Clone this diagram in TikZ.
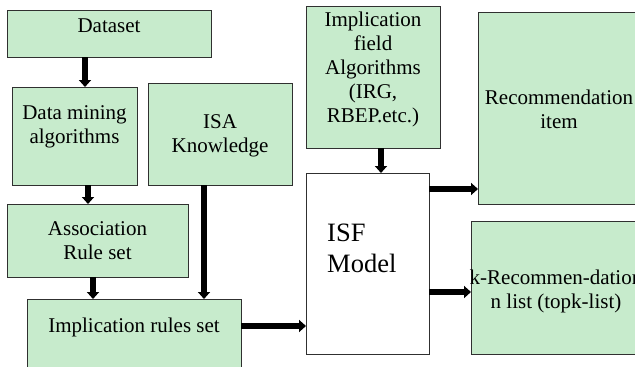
\documentclass[tikz,border=0pt]{standalone}
\usepackage{fontspec}
\setmainfont{Liberation Serif}
\usetikzlibrary{arrows.meta}
\definecolor{boxgreen}{HTML}{C7EBCC}
\definecolor{edgegray}{HTML}{303030}
\begin{document}
\begin{tikzpicture}[x=1pt,y=-1pt,
  gbox/.style={draw=edgegray,line width=0.9pt,fill=boxgreen},
  wbox/.style={draw=edgegray,line width=0.9pt,fill=white},
  lbl/.style={align=center,font=\fontsize{21}{24}\selectfont,inner sep=0pt},
  flow/.style={line width=5.5pt,-{Triangle[width=12pt,length=7pt]}}]
\useasboundingbox (0,0) rectangle (635,367);

% boxes
\draw[gbox] (7,10) rectangle (211,57);
\draw[gbox] (12,87) rectangle (137,185);
\draw[gbox] (148,83) rectangle (292,185);
\draw[gbox] (7,204) rectangle (188,277);
\draw[gbox] (27,299) rectangle (241,380);
\draw[gbox] (306,6) rectangle (440,148);
\draw[wbox] (306,173) rectangle (429,354);
\draw[gbox] (478,12) rectangle (645,204);
\draw[gbox] (471,221) rectangle (645,354);

% labels
\node[lbl] (ds) at (109,26) {Dataset};
\node[lbl] (dm) at (74.5,127) {Data mining\\algorithms};
\node[lbl] (isa) at (220,136) {ISA\\Knowledge};
\node[lbl] (ar) at (97.5,241) {Association\\Rule set};
\node[lbl] (ir) at (134,327) {Implication rules set};
\node[lbl] (ifa) at (373,69) {Implication\\field\\Algorithms\\(IRG,\\RBEP.etc.)};
\node[lbl] (ri) at (559,109) {Recommendation\\item};
\node[lbl] (kr) at (556,291) {k-Recommen-dation\\n list (topk-list)};
\node[align=left,anchor=north west,inner sep=0pt,font=\fontsize{26.5}{31}\selectfont] (isf) at (327,224) {ISF\\Model};

% anchor points on the box edges
\coordinate (dsB) at (85,57);
\coordinate (dmT) at (85,87);
\coordinate (dmB) at (88,185);
\coordinate (arT) at (88,204);
\coordinate (arB) at (93,277);
\coordinate (irT1) at (93,299);
\coordinate (isaB) at (204,185);
\coordinate (irT2) at (204,299);
\coordinate (irR) at (241,326);
\coordinate (isfL) at (306,326);
\coordinate (ifaB) at (381,148);
\coordinate (isfT) at (381,173);
\coordinate (isfR1) at (429,189);
\coordinate (riL) at (478,189);
\coordinate (isfR2) at (429,292);
\coordinate (krL) at (471,292);

% connectors
\draw[flow] (dsB) -- (dmT);
\draw[flow] (dmB) -- (arT);
\draw[flow] (arB) -- (irT1);
\draw[flow] (isaB) -- (irT2);
\draw[flow] (irR) -- (isfL);
\draw[flow] (ifaB) -- (isfT);
\draw[flow] (isfR1) -- (riL);
\draw[flow] (isfR2) -- (krL);
\end{tikzpicture}
\end{document}
